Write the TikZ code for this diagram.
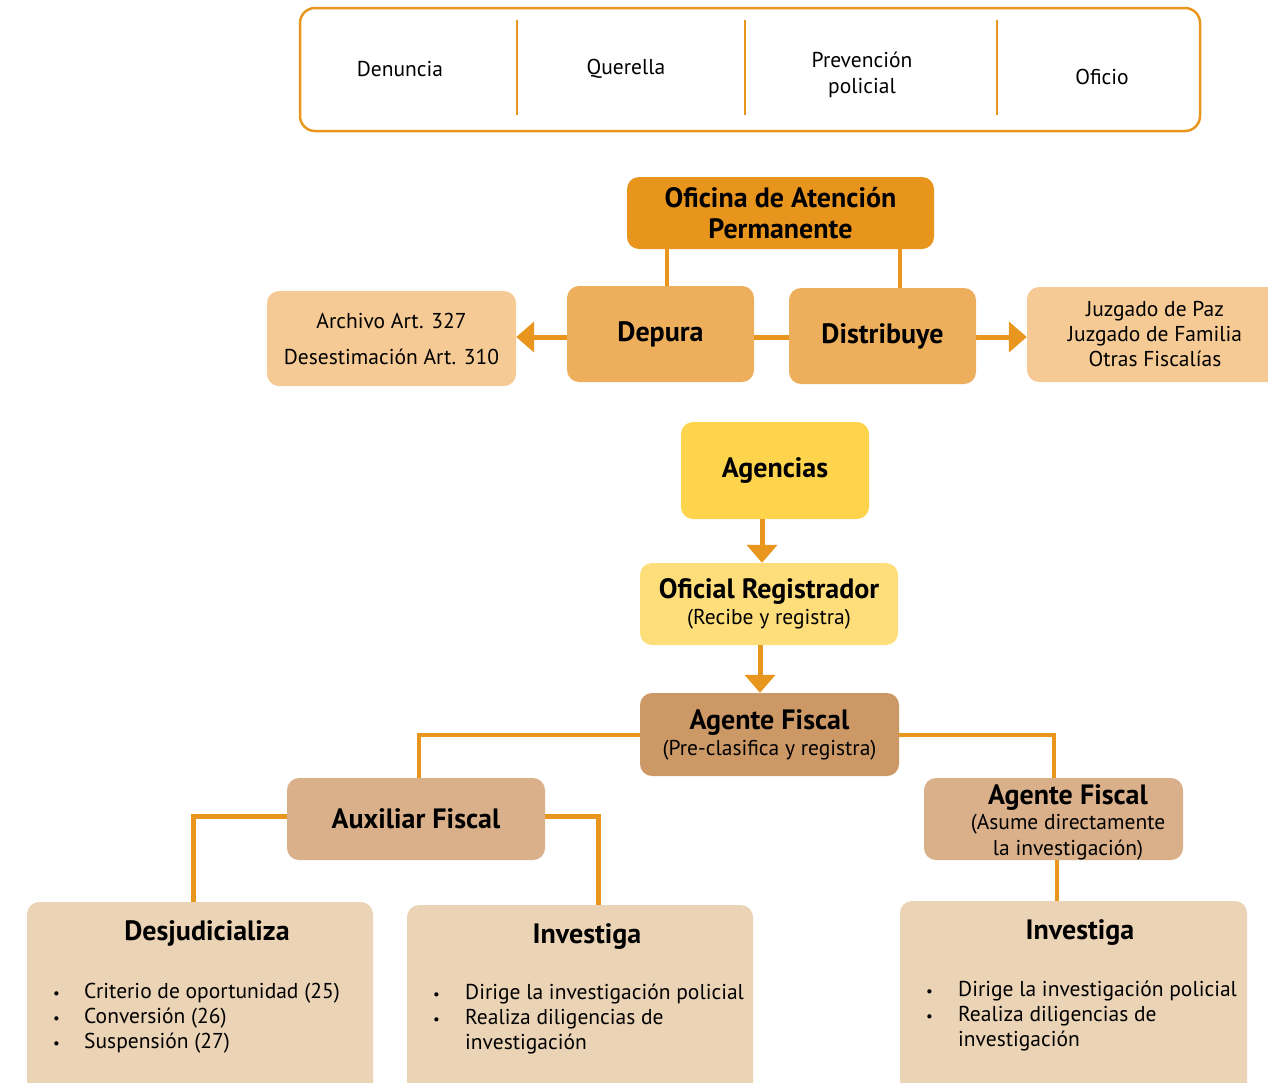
\documentclass[tikz,border=0pt]{standalone}
\usepackage{fontspec}
\setmainfont{PT Sans}
\usetikzlibrary{positioning,arrows.meta}

\definecolor{lineorange}{RGB}{232,150,30}
\definecolor{oficinacol}{RGB}{232,149,29}
\definecolor{depuracol}{RGB}{238,175,92}
\definecolor{salidacol}{RGB}{245,202,148}
\definecolor{agenciacol}{RGB}{253,212,76}
\definecolor{oficialcol}{RGB}{254,222,122}
\definecolor{agentecol}{RGB}{204,153,102}
\definecolor{auxcol}{RGB}{217,176,138}
\definecolor{tareacol}{RGB}{235,211,182}

\newcommand{\boldtitle}{\fontsize{28}{28}\selectfont\bfseries}
\newcommand{\dotmark}{{\fontsize{15}{15}\selectfont\textbullet}}

\begin{document}
\begin{tikzpicture}[
    x=1pt, y=-1pt,
    box/.style={rectangle, rounded corners=12, align=center, inner sep=2},
    plain/.style={align=center, inner sep=0, font=\fontsize{21.5}{26}\selectfont},
    title/.style={inner sep=0, font=\boldtitle},
    sub/.style={font=\fontsize{21.5}{26}\selectfont},
    flow/.style={draw=lineorange, line width=4},
    arrow/.style={flow, line width=5, -{Triangle[width=30,length=18]}},
    tarea/.style={box, fill=tareacol, minimum width=346, minimum height=200},
    lista/.style={inner sep=0, anchor=north west, font=\fontsize{21.5}{25}\selectfont}
]
    \clip (0,0) rectangle (1268,1082);

    % Origin of the case
    \node [draw=lineorange, line width=2.5, rounded corners=15, minimum width=900, minimum height=123] (origen) at (750,69.5) {};
    \foreach \xd in {517,745,997}
        \draw [lineorange, line width=2.5] (\xd,20) -- (\xd,115);
    \node [plain] (denuncia) at (400,69) {Denuncia};
    \node [plain] (querella) at (626,69) {Querella};
    \node [plain] (prevencion) at (862,75) {Prevención\\policial};
    \node [plain] (oficio) at (1102,77) {Oficio};

    % Permanent attention office
    \node [box, fill=oficinacol, minimum width=307, minimum height=72, font=\fontsize{28}{31}\selectfont\bfseries] (oficina) at (780.5,213) {Oficina de Atención\\Permanente};
    \node [box, fill=depuracol, minimum width=187, minimum height=96, font=\boldtitle] (depura) at (660.5,334) {Depura};
    \node [box, fill=depuracol, minimum width=187, minimum height=96, font=\boldtitle] (distribuye) at (882.5,336) {Distribuye};
    \node [box, fill=salidacol, minimum width=249, minimum height=95, font=\fontsize{21.5}{36}\selectfont] (archivo) at (391.5,338.5) {Archivo Art. 327\\Desestimación Art. 310};
    \node [box, fill=salidacol, minimum width=256, minimum height=95, font=\fontsize{21.5}{25}\selectfont] (juzgado) at (1155,334.5) {Juzgado de Paz\\Juzgado de Familia\\Otras Fiscalías};

    \draw [flow] ([xshift=-113.5]oficina.south) -- ([xshift=-113.5]oficina.south |- depura.north);
    \draw [flow] ([xshift=119.5]oficina.south) -- ([xshift=119.5]oficina.south |- distribuye.north);
    \draw [flow, line width=5] ([yshift=-3]depura.east) -- ([yshift=-3]depura.east -| distribuye.west);
    \draw [arrow] ([yshift=-3]depura.west) -- ([yshift=-3]depura.west -| archivo.east);
    \draw [arrow] ([yshift=-1]distribuye.east) -- ([yshift=-1]distribuye.east -| juzgado.west);

    % Agencies
    \node [box, fill=agenciacol, minimum width=188, minimum height=97, font=\boldtitle] (agencias) at (775,470.5) {Agencias};
    \node [box, fill=oficialcol, minimum width=258, minimum height=82, sub] (oficial) at (769,604) {{\boldtitle Oficial Registrador}\\(Recibe y registra)};
    \node [box, fill=agentecol, minimum width=259, minimum height=83, sub] (agente) at (769.5,734.5) {{\boldtitle Agente Fiscal}\\(Pre-clasifica y registra)};

    \draw [arrow] ([xshift=-13]agencias.south) -- ([xshift=-13]agencias.south |- oficial.north);
    \draw [arrow] ([xshift=-9]oficial.south) -- ([xshift=-9]oficial.south |- agente.north);

    % Second level
    \node [box, fill=auxcol, minimum width=258, minimum height=82, font=\boldtitle] (auxiliar) at (416,819) {Auxiliar Fiscal};
    \node [box, fill=auxcol, minimum width=259, minimum height=82] (agente2) at (1053.5,819) {};
    \node [plain, font=\fontsize{21.5}{25.5}\selectfont] (agente2T) at (1068,822) {{\boldtitle Agente Fiscal}\\(Asume directamente\\la investigación)};

    \draw [flow] (agente.west) -| ([xshift=3]auxiliar.north);
    \draw [flow] (agente.east) -| (agente2.north);

    % Tasks
    \node [tarea] (desj) at (200,1002) {};
    \node [tarea] (inv1) at (580,1005) {};
    \node [tarea, minimum width=347] (inv2) at (1073.5,1001) {};

    \draw [flow, line width=5] ([yshift=3]auxiliar.west) -| ([xshift=-7]desj.north);
    \draw [flow, line width=5] ([yshift=3]auxiliar.east) -| ([xshift=18]inv1.north);
    \draw [flow] ([xshift=3.5]agente2.south) -- ([xshift=3.5]agente2.south |- inv2.north);

    \node [title] (desjT) at (207,933) {Desjudicializa};
    \node [title] (inv1T) at (587,936) {Investiga};
    \node [title] (inv2T) at (1080,932) {Investiga};

    \node [lista] (desjL) at (53,981) {\begin{tabular}{@{}p{31pt}@{}l@{}}
        \dotmark & Criterio de oportunidad (25)\\
        \dotmark & Conversión (26)\\
        \dotmark & Suspensión (27)
    \end{tabular}};
    \node [lista] (inv1L) at (433,982) {\begin{tabular}{@{}p{32pt}@{}l@{}}
        \dotmark & Dirige la investigación policial\\
        \dotmark & Realiza diligencias de\\
        & investigación
    \end{tabular}};
    \node [lista] (inv2L) at (926,979) {\begin{tabular}{@{}p{32pt}@{}l@{}}
        \dotmark & Dirige la investigación policial\\
        \dotmark & Realiza diligencias de\\
        & investigación
    \end{tabular}};
\end{tikzpicture}
\end{document}
